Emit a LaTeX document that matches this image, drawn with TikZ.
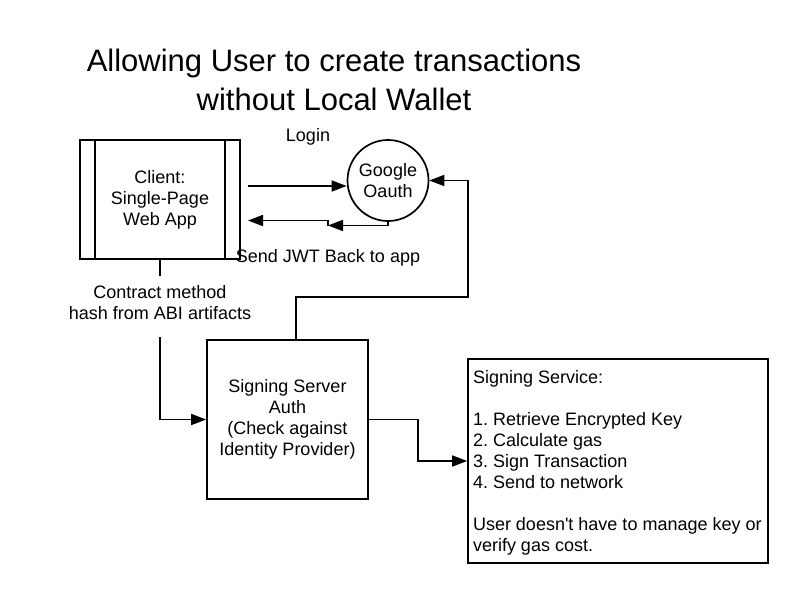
\documentclass[tikz,border=0pt]{standalone}
\usepackage{fontspec}
\setmainfont{Liberation Sans}
\usetikzlibrary{arrows.meta,positioning}

\begin{document}
\frenchspacing
\begin{tikzpicture}[x=1pt, y=-1pt, line width=1.7pt,
    >={Triangle[length=15pt,width=11pt]},
    every node/.style={font=\fontsize{18}{21}\selectfont, align=center},
    box/.style={draw, rectangle, inner sep=0pt},
    lbl/.style={inner sep=1pt}]
    % ----------- 畫布 -----------
    \useasboundingbox (0,0) rectangle (808,605);

    % =====================================
    %            標題
    % =====================================
    \node[font=\fontsize{31}{38.5}\selectfont] (title) at (334,80) {Allowing User to create transactions\\without Local Wallet};

    % =====================================
    %            Client 與 Google
    % =====================================
    \node[box, minimum width=160, minimum height=119] (client) at (160,199.5) {Client:\\Single-Page\\Web App};
    \draw ([xshift=16]client.north west) -- ([xshift=16]client.south west);
    \draw ([xshift=-16]client.north east) -- ([xshift=-16]client.south east);

    \node[draw, circle, minimum size=81, inner sep=0pt] (google) at (388,180.5) {Google\\Oauth};

    % Login 箭頭
    \coordinate (loginstart) at (248,186);
    \draw[->] (loginstart) -- (loginstart -| google.west);
    \node[lbl] (login) at (308,137) {Login};

    % JWT 回傳(兩段)
    \coordinate (jwtmid) at (328,225.5);
    \coordinate (jwtend) at (248,220.5);
    \draw[->] (google.south) |- (jwtmid);
    \draw[->] (jwtmid) |- (jwtend);
    \node[lbl] (jwt) at (328,258) {Send JWT Back to app};

    % =====================================
    %            Signing Server
    % =====================================
    \node[box, minimum width=161, minimum height=159] (server) at (287.5,419.5) {Signing Server\\Auth\\(Check against\\Identity Provider)};

    % Client -> Server
    \node[lbl] (contract) at (160,303) {Contract method\\hash from ABI artifacts};
    \coordinate (contractout) at (160,337);
    \draw (client.south) -- ++(0,16);
    \draw[->] (contractout) |- (server.west);

    % Server -> Google
    \coordinate (srvtop) at ([xshift=8.5]server.north);
    \coordinate (srvbend) at (468,297);
    \draw[->] (srvtop) |- (srvbend) |- (google.east);

    % =====================================
    %            Signing Service
    % =====================================
    \node[box, minimum width=300, minimum height=204] (service) at (618,461) {};
    \node[anchor=north west, align=left, inner sep=0pt] (steps) at ([shift={(5,11)}]service.north west)
        {Signing Service:\\[21pt]1. Retrieve Encrypted Key\\2. Calculate gas\\3. Sign Transaction\\4. Send to network\\[21pt]User doesn\textquotesingle t have to manage key or\\verify gas cost.};

    % Server -> Service
    \coordinate (srvmid) at (418,440);
    \draw[->] (server.east) -| (srvmid) |- (service.west);
\end{tikzpicture}
\end{document}
